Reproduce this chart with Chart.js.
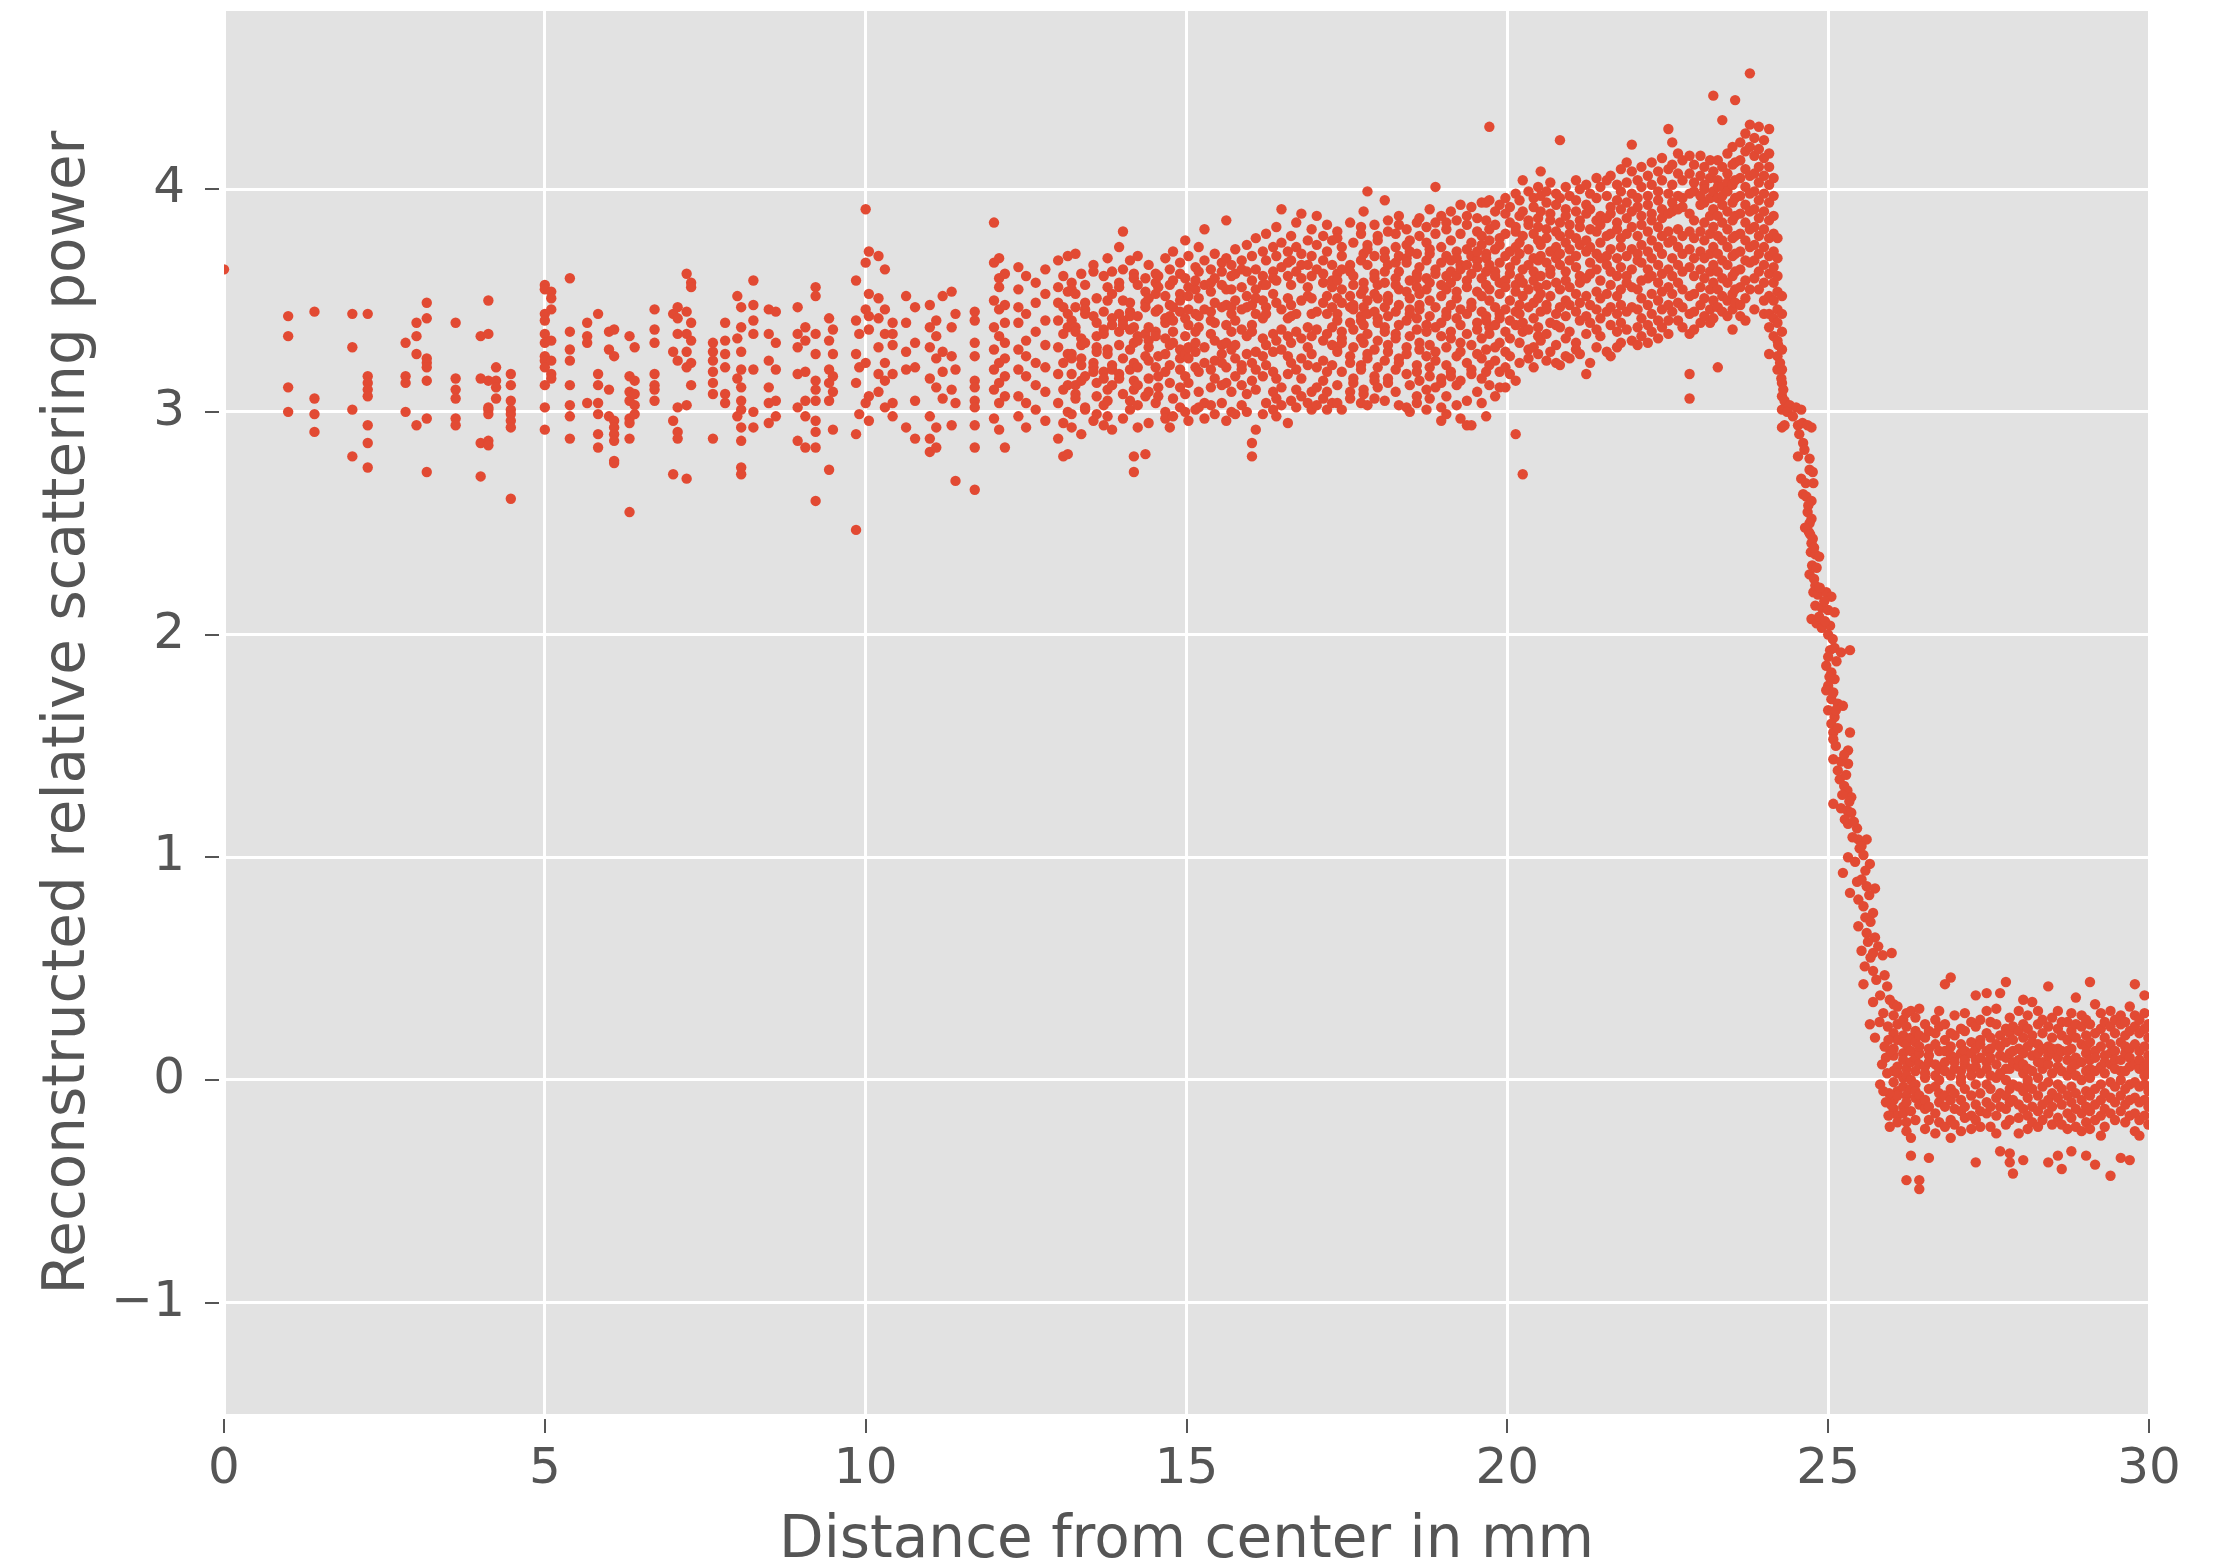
<!DOCTYPE html>
<html>
<head>
<meta charset="utf-8">
<title>Radial profile of scattering power</title>
<script src="https://cdn.jsdelivr.net/npm/chart.js@4"></script>
<style>
  html, body { margin: 0; padding: 0; background: #ffffff; }
  canvas { display: block; }
</style>
</head>
<body>
<canvas id="profile" width="2228" height="1567"></canvas>
<script>
// Radial profile: each entry is [distance from centre in mm, [values of the pixels at that distance]]
const centreColumns = [
  [0.00, [3.64]],
  [1.00, [3.43, 3.34, 3.11, 3.00]],
  [1.41, [3.45, 3.06, 2.99, 2.91]],
  [2.00, [3.44, 3.29, 3.01, 2.80]],
  [2.24, [3.44, 3.16, 3.13, 3.10, 3.07, 2.94, 2.86, 2.75]],
  [2.83, [3.31, 3.16, 3.13, 3.00]],
  [3.00, [3.40, 3.34, 3.26, 2.94]],
  [3.16, [3.49, 3.42, 3.24, 3.22, 3.20, 3.14, 2.97, 2.73]],
  [3.61, [3.40, 3.15, 3.10, 3.06, 2.97, 2.94]],
  [4.00, [3.34, 3.15, 2.86, 2.71]],
  [4.12, [3.50, 3.35, 3.14, 3.02, 3.01, 2.99, 2.87, 2.85]],
  [4.24, [3.20, 3.14, 3.11, 3.06]],
  [4.47, [3.17, 3.12, 3.05, 3.01, 2.99, 2.96, 2.93, 2.61]],
  [5.00, [3.57, 3.55, 3.44, 3.41, 3.35, 3.31, 3.25, 3.23, 3.20, 3.12, 3.02, 2.92]],
  [5.10, [3.54, 3.51, 3.46, 3.32, 3.23, 3.17, 3.15]],
  [5.39, [3.60, 3.36, 3.28, 3.23, 3.12, 3.03, 2.98, 2.88]],
  [5.66, [3.40, 3.34, 3.31, 3.04]],
  [5.83, [3.44, 3.17, 3.12, 3.04, 2.99, 2.90, 2.84]],
  [6.00, [3.36, 3.28, 3.10, 2.98]],
  [6.08, [3.37, 3.25, 2.96, 2.93, 2.90, 2.87, 2.78, 2.77]],
  [6.32, [3.34, 3.16, 3.09, 3.05, 2.97, 2.95, 2.88, 2.55]],
  [6.40, [3.29, 3.14, 3.08, 2.99, 3.03]],
  [6.71, [3.46, 3.37, 3.31, 3.17, 3.12, 3.10, 3.05]]
];

const innerColumns = [
  [7.00, [3.44, 3.27, 2.96, 2.72]],
  [7.07, [3.47, 3.42, 3.35, 3.23, 3.02, 2.91, 2.88]],
  [7.21, [3.62, 3.45, 3.35, 3.27, 3.20, 3.03, 2.70]],
  [7.28, [3.58, 3.56, 3.40, 3.32, 3.22, 3.12]],
  [7.62, [3.31, 3.27, 3.23, 3.18, 3.13, 3.08, 2.88]],
  [7.81, [3.40, 3.32, 3.26, 3.20, 3.08, 3.04]],
  [8.00, [3.52, 3.33, 3.15, 2.98]],
  [8.06, [3.47, 3.38, 3.27, 3.19, 3.11, 3.05, 3.01, 2.93, 2.87, 2.75, 2.72]],
  [8.25, [3.59, 3.48, 3.41, 3.35, 3.19, 3.00, 2.93]],
  [8.49, [3.46, 3.35, 3.23, 3.11, 3.04, 2.95]],
  [8.60, [3.45, 3.31, 3.19, 3.05, 2.98]],
  [8.94, [3.47, 3.35, 3.29, 3.17, 3.02, 2.87]],
  [9.06, [3.38, 3.32, 3.18, 3.05, 2.98, 2.84]],
  [9.22, [3.56, 3.52, 3.35, 3.26, 3.14, 3.10, 3.05, 2.96, 2.91, 2.84, 2.60]],
  [9.43, [3.42, 3.32, 3.19, 3.13, 3.05, 2.74]],
  [9.49, [3.37, 3.26, 3.16, 3.09, 2.92]],
  [9.85, [3.59, 3.41, 3.26, 3.13, 2.90, 2.47]],
  [9.90, [3.35, 3.20, 2.99]],
  [10.00, [3.91, 3.67, 3.46, 3.22, 3.04]],
  [10.05, [3.72, 3.53, 3.43, 3.37, 3.07, 2.96]],
  [10.20, [3.70, 3.51, 3.42, 3.29, 3.17, 3.09]],
  [10.30, [3.64, 3.46, 3.35, 3.22, 3.14, 3.02]],
  [10.42, [3.40, 3.35, 3.30, 3.17, 3.04, 2.98]],
  [10.63, [3.52, 3.40, 3.27, 3.19, 2.93]],
  [10.77, [3.47, 3.31, 3.20, 3.05, 2.88]],
  [11.00, [3.48, 3.38, 3.29, 3.15, 2.98, 2.88, 2.82]],
  [11.10, [3.41, 3.34, 3.24, 3.11, 2.93, 2.84]],
  [11.20, [3.52, 3.27, 3.18, 3.06]],
  [11.34, [3.54, 3.38, 3.25, 3.10, 2.94]],
  [11.40, [3.44, 3.19, 3.04, 2.69]],
  [11.70, [3.45, 3.41, 3.31, 3.25, 3.14, 3.11, 3.05, 3.02, 2.94, 2.84, 2.65]],
  [12.00, [3.85, 3.67, 3.50, 3.38, 3.28, 3.19, 3.10, 2.97]],
  [12.08, [3.69, 3.56, 3.46, 3.34, 3.22, 3.13, 3.04, 2.92, 3.60]],
  [12.17, [3.62, 3.48, 3.40, 3.31, 3.24, 3.16, 3.07, 2.84]],
  [12.38, [3.65, 3.47, 3.40, 3.28, 3.19, 3.07, 2.98, 3.55]],
  [12.50, [3.61, 3.44, 3.32, 3.25, 3.16, 3.04, 2.93]],
  [12.65, [3.58, 3.49, 3.36, 3.22, 3.12, 3.01]],
  [12.80, [3.53, 3.41, 3.30, 3.20, 3.09, 2.96, 3.64]],
  [13.00, [3.68, 3.56, 3.41, 3.29, 3.17, 3.04, 2.88, 3.49]],
  [13.08, [3.61, 3.47, 3.35, 3.22, 3.10, 2.95, 2.80]],
  [13.15, [3.54, 3.44, 3.38, 3.26, 3.12, 3.00, 2.81, 3.70]]
];

const middleColumns = [
  [13.21, [3.58, 3.55, 3.41, 3.26, 3.24, 3.17, 2.99, 2.93]],
  [13.27, [3.71, 3.47, 3.38, 3.36, 3.12, 3.08, 3.06, 3.53]],
  [13.36, [3.62, 3.33, 3.30, 3.24, 3.21, 3.14, 2.90]],
  [13.42, [3.49, 3.46, 3.44, 3.31, 3.16, 3.02, 3.01, 3.57]],
  [13.55, [3.66, 3.63, 3.43, 3.22, 3.20, 3.18, 2.96]],
  [13.60, [3.51, 3.40, 3.29, 3.27, 3.13, 3.07, 2.99, 3.34]],
  [13.71, [3.45, 3.37, 3.35, 3.18, 3.15, 3.03, 2.94, 3.61]],
  [13.77, [3.69, 3.56, 3.28, 3.26, 3.10, 3.05, 2.98, 3.50]],
  [13.84, [3.53, 3.42, 3.39, 3.21, 3.19, 3.12, 2.92, 3.63]],
  [13.95, [3.74, 3.58, 3.56, 3.36, 3.30, 3.17, 3.15, 3.44]],
  [14.01, [3.81, 3.64, 3.50, 3.41, 3.39, 3.24, 3.08, 2.97]],
  [14.12, [3.68, 3.45, 3.43, 3.37, 3.19, 3.05, 3.01, 3.49, 3.28]],
  [14.18, [3.62, 3.60, 3.38, 3.31, 3.22, 3.14, 2.80, 2.73, 3.10]],
  [14.24, [3.70, 3.57, 3.43, 3.34, 3.32, 3.12, 3.03, 2.93, 3.20]],
  [14.36, [3.60, 3.49, 3.47, 3.35, 3.25, 3.07, 2.81, 3.54]],
  [14.41, [3.66, 3.51, 3.32, 3.29, 3.23, 3.15, 2.95, 3.38, 3.09]],
  [14.52, [3.58, 3.45, 3.36, 3.34, 3.20, 3.04, 3.53, 3.62]],
  [14.56, [3.61, 3.56, 3.46, 3.16, 3.11, 3.07, 3.25]],
  [14.67, [3.69, 3.52, 3.42, 3.40, 3.26, 3.18, 3.00, 2.97, 3.33]],
  [14.74, [3.64, 3.57, 3.48, 3.30, 3.21, 3.13, 2.93, 3.43]],
  [14.79, [3.72, 3.59, 3.47, 3.41, 3.31, 3.06, 2.98, 3.36]],
  [14.90, [3.67, 3.53, 3.45, 3.28, 3.19, 3.11, 3.02, 3.62, 3.24, 3.50]],
  [14.98, [3.77, 3.60, 3.42, 3.34, 3.26, 3.16, 3.08, 3.00]],
  [15.03, [3.70, 3.56, 3.46, 3.39, 3.29, 3.24, 3.13, 2.96, 3.52]],
  [15.14, [3.65, 3.55, 3.44, 3.36, 3.27, 3.20, 3.01, 3.59, 3.31]],
  [15.19, [3.74, 3.63, 3.51, 3.43, 3.18, 3.09, 3.02, 3.38]],
  [15.28, [3.82, 3.68, 3.57, 3.46, 3.29, 3.22, 3.04, 2.97]],
  [15.38, [3.64, 3.54, 3.45, 3.35, 3.19, 3.11, 3.03, 3.58, 3.41]],
  [15.44, [3.71, 3.60, 3.49, 3.32, 3.23, 3.15, 2.99, 3.40]],
  [15.55, [3.67, 3.57, 3.47, 3.30, 3.22, 3.12, 3.04, 3.63, 3.26]],
  [15.62, [3.86, 3.69, 3.48, 3.39, 3.31, 3.20, 3.13, 2.96, 3.55]],
  [15.70, [3.66, 3.55, 3.44, 3.36, 3.28, 3.09, 3.00, 3.61, 3.47]],
  [15.76, [3.73, 3.62, 3.50, 3.41, 3.24, 3.16, 2.99, 3.30]],
  [15.86, [3.68, 3.56, 3.46, 3.37, 3.21, 3.12, 3.03, 3.64, 3.19]],
  [15.94, [3.75, 3.63, 3.52, 3.34, 3.26, 3.08, 3.00, 3.47]],
  [16.02, [3.70, 3.59, 3.48, 3.39, 3.22, 3.14, 2.86, 2.80, 3.36]],
  [16.08, [3.78, 3.64, 3.55, 3.44, 3.27, 3.19, 3.10, 2.92, 3.51]],
  [16.19, [3.72, 3.61, 3.50, 3.33, 3.25, 3.16, 2.99, 3.57, 3.42]],
  [16.24, [3.80, 3.68, 3.57, 3.47, 3.30, 3.21, 3.04, 3.44]],
  [16.35, [3.74, 3.63, 3.53, 3.35, 3.27, 3.18, 3.01, 3.60, 3.09]],
  [16.40, [3.83, 3.70, 3.59, 3.49, 3.32, 3.15, 3.06, 2.98]],
  [16.48, [3.91, 3.76, 3.65, 3.46, 3.37, 3.28, 3.11, 3.03]],
  [16.58, [3.72, 3.61, 3.51, 3.42, 3.25, 3.17, 2.95, 3.67, 3.34]],
  [16.63, [3.79, 3.68, 3.57, 3.48, 3.31, 3.22, 3.05, 3.43]],
  [16.71, [3.85, 3.74, 3.63, 3.44, 3.36, 3.19, 3.10, 3.02]],
  [16.79, [3.89, 3.71, 3.60, 3.50, 3.33, 3.24, 3.07, 3.66, 3.15]],
  [16.89, [3.77, 3.66, 3.56, 3.38, 3.29, 3.21, 3.04, 3.52]],
  [16.95, [3.82, 3.70, 3.61, 3.51, 3.34, 3.26, 3.09, 3.01, 3.44]],
  [17.03, [3.88, 3.75, 3.64, 3.45, 3.37, 3.20, 3.11, 3.03]],
  [17.13, [3.79, 3.68, 3.58, 3.49, 3.32, 3.23, 3.06, 3.62, 3.14]],
  [17.19, [3.84, 3.72, 3.52, 3.44, 3.35, 3.18, 3.09, 3.01]],
  [17.27, [3.77, 3.66, 3.56, 3.38, 3.30, 3.21, 3.04, 3.59, 3.47]]
];

const rimColumns = [
  [17.35, [3.81, 3.78, 3.62, 3.59, 3.44, 3.41, 3.29, 3.27, 3.12, 3.04, 3.51]],
  [17.42, [3.74, 3.70, 3.55, 3.36, 3.33, 3.31, 3.18, 3.01, 3.49, 3.64]],
  [17.55, [3.85, 3.66, 3.63, 3.52, 3.47, 3.25, 3.22, 3.09, 3.06, 3.40]],
  [17.60, [3.76, 3.57, 3.48, 3.46, 3.37, 3.15, 3.13, 3.61, 3.29]],
  [17.72, [3.83, 3.80, 3.68, 3.53, 3.43, 3.41, 3.21, 3.19, 3.04, 3.33]],
  [17.76, [3.90, 3.71, 3.58, 3.55, 3.39, 3.31, 3.10, 3.08, 3.47]],
  [17.82, [3.99, 3.75, 3.73, 3.66, 3.50, 3.35, 3.26, 3.24, 3.03, 3.44]],
  [17.93, [3.84, 3.62, 3.60, 3.53, 3.45, 3.28, 3.16, 3.14, 3.06, 3.70]],
  [17.98, [3.79, 3.77, 3.57, 3.42, 3.40, 3.32, 3.20, 3.11, 3.51]],
  [18.09, [3.95, 3.72, 3.69, 3.63, 3.47, 3.38, 3.36, 3.23, 3.05, 3.58]],
  [18.14, [3.86, 3.81, 3.66, 3.52, 3.50, 3.30, 3.27, 3.15, 3.13, 3.43]],
  [18.26, [3.80, 3.74, 3.60, 3.57, 3.45, 3.35, 3.33, 3.19, 3.09, 3.67]],
  [18.31, [3.88, 3.84, 3.70, 3.63, 3.48, 3.39, 3.24, 3.22, 3.03, 3.55]],
  [18.43, [3.82, 3.69, 3.67, 3.54, 3.41, 3.29, 3.26, 3.17, 3.02, 3.75]],
  [18.48, [3.77, 3.72, 3.59, 3.51, 3.46, 3.44, 3.34, 3.12, 3.00]],
  [18.59, [3.85, 3.62, 3.60, 3.56, 3.42, 3.37, 3.21, 3.18, 3.07, 3.04, 3.71]],
  [18.63, [3.87, 3.79, 3.65, 3.48, 3.46, 3.31, 3.28, 3.14, 3.53]],
  [18.74, [3.83, 3.76, 3.68, 3.55, 3.39, 3.36, 3.25, 3.10, 3.01, 3.60]],
  [18.79, [3.91, 3.73, 3.71, 3.58, 3.50, 3.43, 3.30, 3.20, 3.16, 3.06]],
  [18.88, [4.01, 3.85, 3.80, 3.64, 3.62, 3.47, 3.38, 3.27, 3.23, 3.11]],
  [18.97, [3.88, 3.74, 3.67, 3.57, 3.52, 3.40, 3.34, 3.15, 3.13, 3.02, 2.96]],
  [19.05, [3.85, 3.82, 3.70, 3.61, 3.45, 3.43, 3.29, 3.21, 3.07, 2.99, 3.55]],
  [19.12, [3.90, 3.77, 3.63, 3.58, 3.48, 3.36, 3.33, 3.18, 3.16, 3.68]],
  [19.21, [3.86, 3.72, 3.69, 3.54, 3.51, 3.42, 3.25, 3.12, 3.03, 3.61]],
  [19.27, [3.93, 3.80, 3.66, 3.64, 3.46, 3.39, 3.31, 3.27, 3.14, 2.97]],
  [19.37, [3.88, 3.84, 3.73, 3.59, 3.56, 3.44, 3.35, 3.22, 3.05, 2.94, 3.66]],
  [19.44, [3.92, 3.76, 3.70, 3.62, 3.49, 3.47, 3.30, 3.19, 3.17, 2.94]],
  [19.53, [3.87, 3.81, 3.68, 3.65, 3.54, 3.40, 3.37, 3.26, 3.09, 3.72]],
  [19.60, [3.94, 3.79, 3.75, 3.60, 3.52, 3.45, 3.33, 3.24, 3.15, 3.04]],
  [19.67, [3.94, 3.86, 3.71, 3.69, 3.57, 3.43, 3.41, 3.28, 3.18, 2.98, 3.63]],
  [19.72, [4.28, 3.95, 3.82, 3.77, 3.66, 3.55, 3.50, 3.38, 3.35, 3.21, 3.12]],
  [19.81, [3.90, 3.84, 3.73, 3.63, 3.61, 3.47, 3.39, 3.29, 3.23, 3.07]],
  [19.88, [3.93, 3.78, 3.75, 3.67, 3.53, 3.44, 3.42, 3.31, 3.18, 3.11, 3.58]],
  [19.97, [3.96, 3.89, 3.80, 3.70, 3.59, 3.56, 3.46, 3.36, 3.27, 3.20, 3.11]],
  [20.04, [3.92, 3.85, 3.72, 3.65, 3.62, 3.50, 3.41, 3.33, 3.25, 3.17]],
  [20.13, [3.98, 3.83, 3.81, 3.68, 3.57, 3.54, 3.45, 3.39, 3.14, 2.90, 3.74]],
  [20.19, [3.95, 3.88, 3.76, 3.71, 3.60, 3.48, 3.44, 3.31, 3.22]],
  [20.24, [4.04, 3.90, 3.79, 3.64, 3.58, 3.52, 3.40, 3.36, 2.72]],
  [20.33, [3.99, 3.86, 3.84, 3.73, 3.66, 3.55, 3.47, 3.37, 3.28, 3.24]],
  [20.41, [3.96, 3.92, 3.80, 3.69, 3.63, 3.59, 3.49, 3.42, 3.29, 3.20]],
  [20.48, [4.01, 3.87, 3.83, 3.77, 3.68, 3.56, 3.51, 3.38, 3.34, 3.26]],
  [20.52, [4.08, 3.97, 3.90, 3.75, 3.70, 3.61, 3.53, 3.45, 3.32]],
  [20.61, [3.99, 3.94, 3.82, 3.78, 3.67, 3.57, 3.48, 3.46, 3.35, 3.23]],
  [20.67, [4.03, 3.89, 3.86, 3.72, 3.64, 3.62, 3.52, 3.40, 3.27]],
  [20.76, [3.98, 3.93, 3.81, 3.74, 3.69, 3.58, 3.44, 3.39, 3.30, 3.22]],
  [20.82, [4.22, 3.96, 3.85, 3.79, 3.71, 3.66, 3.55, 3.47, 3.38, 3.21]],
  [20.91, [4.01, 3.91, 3.88, 3.76, 3.63, 3.59, 3.50, 3.43, 3.33, 3.25]],
  [20.97, [3.97, 3.84, 3.80, 3.73, 3.68, 3.56, 3.48, 3.36, 3.24]],
  [21.07, [4.04, 3.95, 3.90, 3.78, 3.70, 3.65, 3.53, 3.45, 3.31, 3.28]],
  [21.13, [4.00, 3.86, 3.83, 3.75, 3.61, 3.58, 3.49, 3.41, 3.26]],
  [21.23, [4.02, 3.93, 3.89, 3.77, 3.72, 3.60, 3.52, 3.43, 3.35, 3.17]],
  [21.29, [3.98, 3.91, 3.82, 3.74, 3.67, 3.62, 3.48, 3.40, 3.22]],
  [21.39, [4.05, 3.96, 3.86, 3.81, 3.71, 3.64, 3.54, 3.46, 3.37, 3.29]],
  [21.45, [4.01, 3.88, 3.84, 3.76, 3.69, 3.59, 3.51, 3.42, 3.34]],
  [21.55, [4.04, 3.97, 3.87, 3.79, 3.70, 3.66, 3.53, 3.45, 3.27]],
  [21.61, [4.06, 3.92, 3.89, 3.80, 3.73, 3.63, 3.57, 3.47, 3.39, 3.25]],
  [21.71, [4.02, 3.95, 3.85, 3.82, 3.69, 3.61, 3.52, 3.44, 3.36, 3.29]],
  [21.77, [4.09, 3.99, 3.91, 3.78, 3.74, 3.65, 3.55, 3.48, 3.40, 3.31]],
  [21.86, [4.12, 4.03, 3.94, 3.87, 3.80, 3.70, 3.61, 3.58, 3.45, 3.37]],
  [21.94, [4.20, 4.08, 3.98, 3.90, 3.83, 3.73, 3.64, 3.56, 3.47, 3.32]],
  [22.03, [4.04, 3.96, 3.92, 3.79, 3.71, 3.68, 3.55, 3.46, 3.38, 3.30]],
  [22.09, [4.10, 4.01, 3.88, 3.84, 3.75, 3.67, 3.59, 3.51, 3.42, 3.34]],
  [22.19, [4.06, 3.97, 3.93, 3.81, 3.72, 3.64, 3.60, 3.48, 3.39, 3.31]],
  [22.25, [4.12, 4.02, 3.89, 3.86, 3.77, 3.69, 3.61, 3.53, 3.44, 3.36]],
  [22.35, [4.08, 3.99, 3.95, 3.83, 3.74, 3.66, 3.58, 3.50, 3.41, 3.33]],
  [22.41, [4.14, 4.04, 3.91, 3.87, 3.79, 3.71, 3.62, 3.54, 3.46, 3.38]],
  [22.51, [4.27, 4.09, 3.98, 3.89, 3.81, 3.76, 3.64, 3.56, 3.48, 3.41, 3.35]],
  [22.57, [4.21, 4.11, 4.02, 3.94, 3.90, 3.77, 3.69, 3.61, 3.53, 3.45]],
  [22.66, [4.16, 4.07, 3.97, 3.91, 3.82, 3.74, 3.66, 3.58, 3.49, 3.41]],
  [22.73, [4.13, 4.04, 3.96, 3.92, 3.79, 3.71, 3.63, 3.55, 3.47, 3.38]],
  [22.84, [4.15, 4.07, 3.98, 3.89, 3.81, 3.73, 3.65, 3.52, 3.44, 3.35, 3.17, 3.06]],
  [22.91, [4.11, 4.03, 3.99, 3.86, 3.78, 3.69, 3.61, 3.53, 3.45, 3.37]],
  [23.01, [4.15, 4.06, 3.97, 3.93, 3.81, 3.72, 3.64, 3.56, 3.48, 3.40]],
  [23.07, [4.10, 4.02, 4.00, 3.94, 3.85, 3.77, 3.69, 3.60, 3.51, 3.43]],
  [23.16, [4.13, 4.05, 3.96, 3.88, 3.80, 3.71, 3.63, 3.55, 3.46, 3.40]],
  [23.21, [4.42, 4.08, 3.99, 3.91, 3.83, 3.74, 3.66, 3.58, 3.50, 3.42]],
  [23.28, [4.13, 4.04, 4.01, 3.96, 3.88, 3.79, 3.71, 3.63, 3.55, 3.47, 3.20]],
  [23.35, [4.31, 4.10, 4.01, 3.97, 3.93, 3.85, 3.77, 3.68, 3.60, 3.52, 3.45]],
  [23.43, [4.16, 4.07, 4.03, 3.99, 3.90, 3.82, 3.74, 3.66, 3.58, 3.50, 3.43]],
  [23.51, [4.19, 4.11, 4.02, 3.94, 3.86, 3.78, 3.70, 3.61, 3.53, 3.46, 3.37]],
  [23.55, [4.40, 4.12, 4.04, 3.96, 3.88, 3.79, 3.71, 3.63, 3.55, 3.49]],
  [23.63, [4.21, 4.13, 4.05, 3.97, 3.89, 3.80, 3.72, 3.64, 3.56, 3.48, 3.43]],
  [23.71, [4.25, 4.17, 4.09, 4.01, 3.93, 3.85, 3.77, 3.68, 3.59, 3.51, 3.41]],
  [23.78, [4.52, 4.29, 4.19, 4.06, 3.98, 3.90, 3.82, 3.74, 3.67, 3.55]],
  [23.85, [4.23, 4.15, 4.07, 3.99, 3.91, 3.83, 3.75, 3.68, 3.60, 3.46]],
  [23.92, [4.28, 4.18, 4.10, 4.03, 3.95, 3.87, 3.79, 3.71, 3.63, 3.55]],
  [24.00, [4.22, 4.14, 4.06, 3.98, 3.90, 3.82, 3.74, 3.66, 3.58, 3.50, 3.44]],
  [24.08, [4.27, 4.16, 4.10, 4.02, 3.94, 3.86, 3.78, 3.70, 3.62, 3.52, 3.44, 3.38, 3.26]],
  [24.15, [4.05, 3.97, 3.88, 3.80, 3.72, 3.65, 3.58, 3.50, 3.42, 3.34]],
  [24.21, [3.78, 3.69, 3.61, 3.54, 3.46, 3.40, 3.32, 3.25, 3.19]],
  [24.28, [3.52, 3.44, 3.36, 3.28, 3.19, 3.13, 3.07, 3.01, 2.93]]
];

// Steep fall-off at the object boundary: [distance, value]
const edgePoints = [
  [24.32, 3.05], [24.40, 3.03], [24.50, 3.02], [24.58, 3.01], [24.32, 2.94], [24.53, 2.94],
  [24.60, 2.95], [24.68, 2.94], [24.74, 2.93], [24.61, 2.86], [24.53, 2.80], [24.71, 2.79],
  [24.71, 2.74], [24.76, 2.73], [24.77, 2.68], [24.61, 2.63], [24.66, 2.62], [24.74, 2.60],
  [24.68, 2.55], [24.74, 2.52], [24.71, 2.50], [24.70, 2.46], [24.76, 2.43], [24.74, 2.41],
  [24.73, 2.37], [24.80, 2.36], [24.86, 2.35], [24.71, 2.27], [24.78, 2.25], [24.77, 2.19],
  [24.84, 2.18], [24.97, 2.19], [25.05, 2.17], [24.80, 2.13], [24.90, 2.12], [25.00, 2.11],
  [25.10, 2.10], [24.74, 2.07], [24.82, 2.05], [25.03, 2.04], [24.90, 2.03], [25.03, 1.93],
  [25.10, 1.94], [25.20, 1.92], [25.34, 1.93], [24.97, 1.86], [25.05, 1.83], [25.10, 1.80],
  [25.00, 1.77], [24.97, 1.75], [25.05, 1.71], [25.15, 1.69], [25.23, 1.68], [25.00, 1.66],
  [25.10, 1.63], [25.08, 1.56], [25.34, 1.56], [25.08, 1.53], [25.31, 1.48], [25.08, 1.44],
  [25.31, 1.42], [25.20, 1.43], [25.18, 1.35], [25.25, 1.32], [25.30, 1.30], [25.36, 1.27],
  [25.08, 1.24], [25.20, 1.22], [25.30, 1.21], [25.36, 1.20], [25.31, 1.15], [25.45, 1.13],
  [25.47, 1.08], [25.60, 1.08], [25.49, 1.04], [25.55, 1.01], [25.65, 0.97], [25.31, 1.00],
  [25.23, 0.93], [25.45, 0.89], [25.60, 0.87], [25.73, 0.86], [25.34, 0.84], [25.47, 0.81],
  [25.55, 0.78], [25.70, 0.75], [25.47, 0.69], [25.60, 0.66], [25.73, 0.64], [25.52, 0.58],
  [25.70, 0.57], [25.85, 0.56], [25.99, 0.57], [25.57, 0.51], [25.70, 0.49], [25.88, 0.47],
  [25.55, 0.43], [25.81, 0.38], [25.96, 0.36], [25.65, 0.25], [25.73, 0.19], [25.94, 0.18],
  [25.81, -0.02], [25.90, 0.10], [25.92, 0.03], [25.95, -0.06], [25.97, 0.13], [25.98, -0.11],
  [24.22, 3.30], [24.25, 3.22], [24.27, 3.15], [24.30, 3.10], [24.36, 3.00], [24.45, 2.98],
  [24.55, 2.90], [24.63, 2.83], [24.58, 2.70], [24.65, 2.68], [24.69, 2.58], [24.64, 2.48],
  [24.72, 2.45], [24.78, 2.39], [24.75, 2.31], [24.82, 2.30], [24.80, 2.22], [24.87, 2.21],
  [24.94, 2.15], [24.86, 2.08], [24.95, 2.06], [25.00, 2.00], [25.07, 1.98], [25.00, 1.90],
  [25.13, 1.88], [25.02, 1.81], [25.08, 1.74], [25.12, 1.66], [25.05, 1.60], [25.15, 1.58],
  [25.12, 1.50], [25.25, 1.46], [25.15, 1.39], [25.28, 1.37], [25.22, 1.28], [25.33, 1.25],
  [25.26, 1.17], [25.40, 1.16], [25.38, 1.09], [25.52, 1.05], [25.42, 0.98], [25.58, 0.94],
  [25.52, 0.90], [25.64, 0.83], [25.58, 0.73], [25.66, 0.71], [25.62, 0.62], [25.78, 0.60],
  [25.66, 0.55], [25.75, 0.45], [25.92, 0.42], [25.70, 0.35], [25.86, 0.30], [25.80, 0.26],
  [25.93, 0.24], [25.88, 0.15], [25.84, 0.07], [25.86, -0.05], [25.90, -0.10], [25.94, -0.16],
  [25.96, -0.21]
];

const outerColumns = [
  [26.02, [0.14, 0.11, -0.01, -0.09, 0.21, -0.13, 0.04, 0.29, 0.34]],
  [26.08, [0.18, 0.06, 0.03, -0.05, -0.16, 0.33, -0.19, 0.25, -0.07]],
  [26.17, [0.12, 0.09, -0.03, -0.12, 0.20, -0.15, 0.01, 0.27, 0.17]],
  [26.22, [0.16, 0.05, 0.02, -0.07, -0.10, 0.30, -0.23, -0.45, 0.24, -0.19]],
  [26.29, [0.13, 0.08, -0.04, -0.14, -0.26, -0.34, 0.19, 0.00, 0.31]],
  [26.36, [0.10, 0.04, -0.02, -0.08, -0.18, 0.22, 0.28, -0.05, 0.17]],
  [26.42, [0.12, 0.07, -0.07, -0.11, -0.45, -0.49, 0.20, 0.15, 0.32]],
  [26.51, [0.19, 0.06, 0.01, -0.09, -0.13, -0.22, 0.25, 0.03]],
  [26.57, [0.11, 0.08, -0.04, -0.12, -0.35, 0.22, 0.14, -0.18]],
  [26.67, [0.21, 0.16, 0.02, -0.03, -0.15, 0.27, -0.24, 0.07]],
  [26.73, [0.13, 0.05, 0.00, -0.10, -0.19, 0.24, 0.31, -0.06]],
  [26.82, [0.43, 0.18, 0.08, 0.04, -0.07, -0.12, -0.21, 0.25, 0.13]],
  [26.91, [0.46, 0.15, 0.11, -0.04, -0.09, -0.18, 0.21, 0.02, -0.26]],
  [26.97, [0.20, 0.10, 0.05, -0.06, -0.13, 0.29, -0.20, 0.08]],
  [27.07, [0.16, 0.12, -0.01, -0.09, -0.14, 0.23, -0.23, 0.04, 0.01]],
  [27.13, [0.22, 0.13, 0.07, -0.04, -0.12, 0.30, -0.17, 0.09]],
  [27.23, [0.17, 0.05, 0.02, -0.07, -0.16, 0.26, -0.22, 0.12]],
  [27.30, [0.38, 0.24, 0.14, 0.06, -0.02, -0.11, -0.18, -0.37, 0.09]],
  [27.37, [0.18, 0.10, 0.03, -0.06, -0.14, 0.27, -0.21, 0.16]],
  [27.47, [0.39, 0.21, 0.13, 0.08, -0.02, -0.10, -0.15, 0.31, 0.05]],
  [27.53, [0.19, 0.14, 0.02, -0.04, -0.12, -0.21, 0.26, 0.10]],
  [27.62, [0.25, 0.16, 0.07, 0.01, -0.08, -0.16, 0.32, -0.24]],
  [27.68, [0.39, 0.20, 0.11, 0.03, -0.06, -0.12, -0.32, 0.15]],
  [27.77, [0.44, 0.23, 0.17, 0.10, 0.00, -0.07, -0.13, -0.20, 0.05]],
  [27.83, [0.21, 0.12, 0.05, -0.04, -0.10, -0.33, -0.37, 0.28, -0.18]],
  [27.88, [0.18, 0.08, -0.02, -0.09, -0.42, 0.24, 0.13]],
  [27.97, [0.22, 0.14, 0.06, -0.03, -0.11, -0.17, 0.31, -0.24, 0.09]],
  [28.04, [0.36, 0.19, 0.12, 0.03, -0.05, -0.13, -0.36, 0.25, 0.07]],
  [28.11, [0.23, 0.15, 0.05, -0.02, -0.08, -0.16, 0.29, -0.22, 0.00]],
  [28.18, [0.35, 0.20, 0.11, 0.04, -0.04, -0.12, -0.19, 0.17]],
  [28.27, [0.25, 0.16, 0.08, 0.01, -0.07, -0.14, 0.31, -0.21, 0.12]],
  [28.34, [0.21, 0.14, 0.05, -0.03, -0.11, -0.18, 0.27, 0.08]],
  [28.43, [0.42, 0.24, 0.15, 0.07, -0.01, -0.09, -0.15, -0.37, 0.11]],
  [28.49, [0.19, 0.12, 0.03, -0.06, -0.12, -0.20, 0.28, 0.14]],
  [28.58, [0.23, 0.14, 0.06, -0.02, -0.08, -0.34, 0.31, -0.17, 0.10]],
  [28.64, [0.20, 0.13, 0.04, -0.04, -0.11, -0.40, 0.26, -0.20]],
  [28.73, [0.26, 0.18, 0.09, 0.02, -0.07, -0.15, -0.22, 0.13]],
  [28.79, [0.22, 0.14, 0.05, -0.03, -0.10, -0.32, 0.30, -0.17]],
  [28.86, [0.37, 0.19, 0.10, 0.02, -0.06, -0.13, -0.21, 0.25, 0.07]],
  [28.95, [0.24, 0.16, 0.08, 0.00, -0.09, -0.15, 0.29, -0.23]],
  [29.02, [0.20, 0.12, 0.04, -0.05, -0.12, -0.34, 0.27, 0.15, -0.19]],
  [29.08, [0.44, 0.25, 0.17, 0.09, 0.01, -0.07, -0.14, -0.22, 0.05]],
  [29.16, [0.34, 0.21, 0.13, 0.04, -0.04, -0.11, -0.38, -0.18, 0.10]],
  [29.25, [0.23, 0.15, 0.06, -0.02, -0.09, -0.16, 0.30, -0.25]],
  [29.31, [0.19, 0.11, 0.03, -0.06, -0.13, -0.21, 0.26, 0.08]],
  [29.40, [0.24, 0.16, 0.07, -0.01, -0.08, -0.43, 0.31, -0.15, 0.12]],
  [29.47, [0.21, 0.13, 0.05, -0.03, -0.10, -0.18, 0.27, 0.09]],
  [29.56, [0.25, 0.17, 0.09, 0.00, -0.07, -0.35, -0.14, 0.29, 0.04]],
  [29.63, [0.20, 0.12, 0.04, -0.04, -0.11, -0.19, 0.26, 0.15]],
  [29.70, [0.33, 0.22, 0.14, 0.06, -0.02, -0.09, -0.36, -0.16, 0.10]],
  [29.78, [0.43, 0.24, 0.16, 0.07, -0.01, -0.08, -0.15, -0.23, 0.29]],
  [29.85, [0.21, 0.13, 0.05, -0.03, -0.10, -0.18, 0.27, 0.09, -0.25]],
  [29.93, [0.38, 0.23, 0.15, 0.06, -0.02, -0.09, -0.16, 0.30, 0.02]],
  [29.99, [0.19, 0.11, 0.03, -0.05, -0.12, -0.20, 0.25, 0.08]]
];

const xTickValues = [0, 5, 10, 15, 20, 25, 30];
const yTickValues = [-1, 0, 1, 2, 3, 4];
const xTitle = 'Distance from center in mm';
const yTitle = 'Reconstructed relative scattering power';

// Flatten the column tables into scatter points
const points = [];
for (const group of [centreColumns, innerColumns, middleColumns, rimColumns, outerColumns]) {
  for (const [r, values] of group) {
    for (const v of values) points.push({ x: r, y: v });
  }
}
for (const [r, v] of edgePoints) points.push({ x: r, y: v });

const TEXT = '#555555';
const FONT = 'DejaVu Sans';

const panelBackground = {
  id: 'panelBackground',
  beforeDraw(chart) {
    const { ctx, chartArea: a } = chart;
    ctx.save();
    ctx.fillStyle = '#ffffff';
    ctx.fillRect(0, 0, chart.width, chart.height);
    ctx.fillStyle = '#E2E2E2';
    ctx.fillRect(a.left, a.top, a.right - a.left, a.bottom - a.top);
    ctx.restore();
  }
};

// Short outward tick marks, slightly detached from the panel
const outerTicks = {
  id: 'outerTicks',
  afterDraw(chart) {
    const { ctx, chartArea: a, scales: { x, y } } = chart;
    ctx.save();
    ctx.strokeStyle = TEXT;
    ctx.lineWidth = 2;
    ctx.beginPath();
    for (const t of x.ticks) {
      const px = Math.round(x.getPixelForValue(t.value));
      ctx.moveTo(px, a.bottom + 5);
      ctx.lineTo(px, a.bottom + 19);
    }
    for (const t of y.ticks) {
      const py = Math.round(y.getPixelForValue(t.value));
      ctx.moveTo(a.left - 5, py);
      ctx.lineTo(a.left - 19, py);
    }
    ctx.stroke();
    ctx.restore();
  }
};

new Chart(document.getElementById('profile'), {
  type: 'scatter',
  data: {
    datasets: [{
      data: points,
      backgroundColor: '#E24A33',
      borderWidth: 0,
      pointRadius: 5.2,
      pointHoverRadius: 5.2,
      clip: 0
    }]
  },
  options: {
    responsive: false,
    devicePixelRatio: 1,
    animation: false,
    events: [],
    layout: { padding: { left: 0, top: 11, right: 79, bottom: 0 } },
    plugins: { legend: { display: false }, tooltip: { enabled: false } },
    scales: {
      x: {
        type: 'linear',
        min: 0,
        max: 30,
        afterBuildTicks(scale) { scale.ticks = xTickValues.map(v => ({ value: v })); },
        afterFit(scale) { scale.height = 153; scale.paddingLeft = 0; scale.paddingRight = 0; },
        border: { display: false },
        grid: { color: '#ffffff', lineWidth: 3, drawTicks: false },
        ticks: {
          padding: 26,
          color: TEXT,
          font: { family: FONT, size: 50 },
          maxRotation: 0,
          callback: v => String(v)
        },
        title: {
          display: true,
          text: xTitle,
          color: TEXT,
          font: { family: FONT, size: 58, lineHeight: 1 },
          padding: { top: 0, bottom: -4 }
        }
      },
      y: {
        type: 'linear',
        min: -1.5,
        max: 4.8,
        afterBuildTicks(scale) { scale.ticks = yTickValues.map(v => ({ value: v })); },
        afterFit(scale) { scale.width = 224; scale.paddingTop = 0; scale.paddingBottom = 0; },
        border: { display: false },
        grid: { color: '#ffffff', lineWidth: 3, drawTicks: false },
        ticks: {
          padding: 39,
          color: TEXT,
          font: { family: FONT, size: 50 },
          callback: v => (v < 0 ? '\u2212' + Math.abs(v) : String(v))
        },
        title: {
          display: true,
          text: yTitle,
          color: TEXT,
          font: { family: FONT, size: 58, lineHeight: 1 },
          padding: { top: 40, bottom: 0 }
        }
      }
    }
  },
  plugins: [panelBackground, outerTicks]
});
</script>
</body>
</html>
